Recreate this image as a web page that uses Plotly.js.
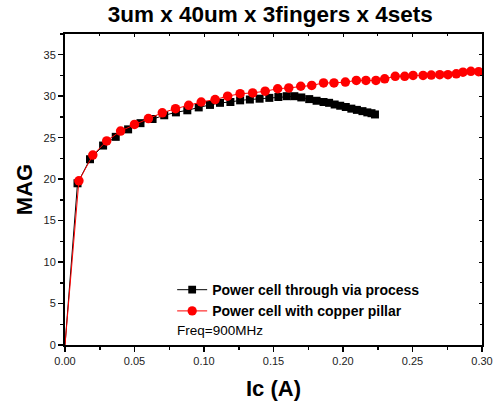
<!DOCTYPE html>
<html>
<head>
<meta charset="utf-8">
<script src="https://cdn.plot.ly/plotly-3.0.1.min.js"></script>
<style>html,body{margin:0;padding:0;background:#fff;}#chart{width:494px;height:404px;}</style>
</head>
<body>
<div id="chart"></div>
<script>
const viaX = [0, 0.009, 0.018, 0.0274, 0.0365, 0.0454, 0.0543, 0.063, 0.0714, 0.0798, 0.088, 0.0962, 0.1043, 0.1115, 0.119, 0.126, 0.133, 0.140, 0.147, 0.1535, 0.1595, 0.165, 0.170, 0.1757, 0.181, 0.186, 0.190, 0.194, 0.198, 0.202, 0.206, 0.210, 0.214, 0.2175, 0.2205, 0.223];
const viaY = [0, 19.5, 22.4, 24.05, 25.1, 26.0, 26.75, 27.25, 27.7, 28.05, 28.3, 28.65, 28.95, 29.2, 29.3, 29.5, 29.6, 29.7, 29.8, 29.9, 30.0, 30.0, 29.85, 29.65, 29.45, 29.3, 29.2, 29.0, 28.85, 28.7, 28.5, 28.35, 28.2, 28.05, 27.95, 27.8];
const pillarX = [0, 0.010, 0.020, 0.030, 0.040, 0.050, 0.060, 0.070, 0.0795, 0.089, 0.098, 0.108, 0.117, 0.126, 0.135, 0.144, 0.153, 0.161, 0.1696, 0.1775, 0.186, 0.1935, 0.2017, 0.2096, 0.2165, 0.2237, 0.230, 0.2376, 0.2444, 0.2504, 0.2576, 0.2635, 0.2696, 0.2755, 0.2815, 0.2863, 0.292, 0.2976];
const pillarY = [0, 19.8, 22.9, 24.6, 25.8, 26.6, 27.3, 28.0, 28.5, 28.9, 29.3, 29.6, 30.0, 30.3, 30.4, 30.6, 30.9, 31.0, 31.2, 31.3, 31.6, 31.6, 31.7, 31.9, 31.9, 31.9, 32.1, 32.4, 32.4, 32.5, 32.5, 32.55, 32.6, 32.6, 32.7, 32.9, 33.0, 32.95];
const seriesNames = ['Power cell through via process', 'Power cell with copper pillar'];
const titleText = '3um x 40um x 3fingers x 4sets';
const xTitle = 'Ic (A)';
const yTitle = 'MAG';
const noteText = 'Freq=900MHz';

const FONT = 'Arial, "Liberation Sans", sans-serif';
const xRange = [0, 0.30];
const yRange = [0, 37.5];

const traces = [
  {
    x: viaX, y: viaY, name: seriesNames[0], type: 'scatter', mode: 'lines+markers',
    line: {color: '#000000', width: 1},
    marker: {symbol: 'square', color: '#000000', opacity: 1, line: {width: 0},
             size: viaX.map((v, i) => i === 0 ? 0 : 8)}
  },
  {
    x: pillarX, y: pillarY, name: seriesNames[1], type: 'scatter', mode: 'lines+markers',
    line: {color: '#ff0000', width: 1},
    marker: {symbol: 'circle', color: '#ff0000', opacity: 1, line: {width: 0},
             size: pillarX.map((v, i) => i === 0 ? 0 : 9.5)}
  },
  {x: [], y: [], xaxis: 'x2', yaxis: 'y2', showlegend: false, hoverinfo: 'skip'}
];

const axisCommon = {
  showgrid: false, zeroline: false, showline: true, linecolor: '#000', linewidth: 2,
  ticks: 'outside', ticklen: 5, tickwidth: 1.5, tickcolor: '#000',
  tickfont: {family: FONT, size: 11, color: '#222'}
};

const layout = {
  width: 494, height: 404,
  margin: {l: 65, r: 12, t: 34, b: 59},
  paper_bgcolor: '#fff', plot_bgcolor: '#fff',
  font: {family: FONT},
  title: {text: titleText, font: {family: FONT, size: 22.5, color: '#000', weight: 'bold'}, x: 0.547, xanchor: 'center', y: 0.964, yanchor: 'middle'},
  xaxis: Object.assign({}, axisCommon, {
    range: xRange, dtick: 0.05, tickformat: '.2f',
    minor: {dtick: 0.025, ticks: 'outside', ticklen: 3, tickwidth: 1.5, tickcolor: '#000'},
    title: {text: xTitle, font: {family: FONT, size: 22, color: '#000', weight: 'bold'}, standoff: 14}
  }),
  yaxis: Object.assign({}, axisCommon, {
    range: yRange, dtick: 5,
    minor: {dtick: 2.5, ticks: 'outside', ticklen: 3, tickwidth: 1.5, tickcolor: '#000'},
    title: {text: yTitle, font: {family: FONT, size: 22, color: '#000', weight: 'bold'}, standoff: 5}
  }),
  xaxis2: {
    overlaying: 'x', side: 'top', range: xRange, dtick: 0.05, showgrid: false, zeroline: false,
    showline: true, linecolor: '#000', linewidth: 2, ticks: 'inside', ticklen: 3, tickwidth: 1, tickcolor: '#000',
    showticklabels: false, minor: {dtick: 0.025, ticks: 'inside', ticklen: 2, tickcolor: '#000'}
  },
  yaxis2: {
    overlaying: 'y', side: 'right', range: yRange, dtick: 5, showgrid: false, zeroline: false,
    showline: true, linecolor: '#000', linewidth: 2, ticks: 'inside', ticklen: 3, tickwidth: 1, tickcolor: '#000',
    showticklabels: false, minor: {dtick: 2.5, ticks: 'inside', ticklen: 2, tickcolor: '#000'}
  },
  legend: {
    x: 0.257, y: 0.228, xanchor: 'left', yanchor: 'top',
    bgcolor: 'rgba(0,0,0,0)', borderwidth: 0,
    font: {family: FONT, size: 14, color: '#000', weight: 'bold'},
    tracegroupgap: 0, itemwidth: 30
  },
  annotations: [{
    text: noteText, xref: 'paper', yref: 'paper', x: 0.264, y: 0.047,
    xanchor: 'left', yanchor: 'middle', showarrow: false,
    font: {family: FONT, size: 13.5, color: '#000'}
  }],
  showlegend: true
};

Plotly.newPlot('chart', traces, layout, {displayModeBar: false, staticPlot: true});
</script>
</body>
</html>
